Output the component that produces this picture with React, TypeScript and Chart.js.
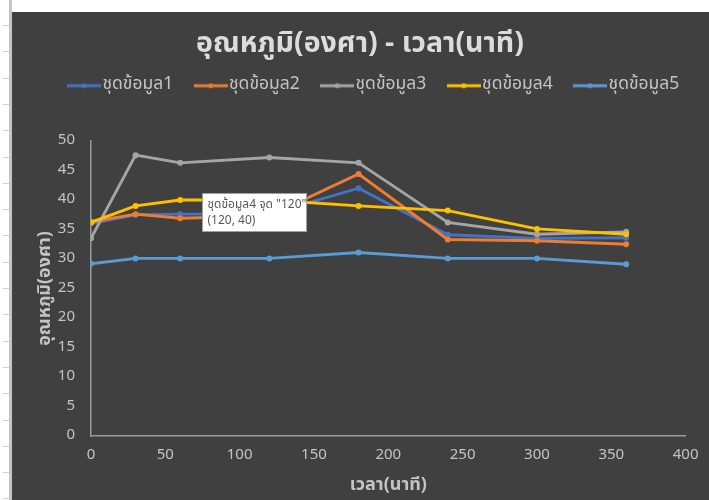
import React, { useEffect, useRef } from "react";
import { Chart, registerables } from "chart.js";

Chart.register(...registerables);

// Elapsed time (minutes) at each reading
const times = [0, 30, 60, 120, 180, 240, 300, 360];

// Temperature readings (degrees) for each data set
const series1 = [36.0, 37.5, 37.6, 37.6, 42.0, 34.1, 33.5, 33.6];
const series2 = [36.3, 37.6, 36.9, 37.3, 44.4, 33.3, 33.1, 32.5];
const series3 = [33.5, 47.6, 46.3, 47.2, 46.3, 36.2, 34.2, 34.6];
const series4 = [36.2, 39.0, 40.0, 40.0, 39.0, 38.2, 35.1, 34.2];
const series5 = [29.2, 30.1, 30.1, 30.1, 31.1, 30.1, 30.1, 29.1];

const seriesNames = ["ชุดข้อมูล1", "ชุดข้อมูล2", "ชุดข้อมูล3", "ชุดข้อมูล4", "ชุดข้อมูล5"];
const seriesColors = ["#4472C4", "#ED7D31", "#A5A5A5", "#FFC000", "#5B9BD5"];

const titleText = "อุณหภูมิ(องศา) - เวลา(นาที)";
const xTitle = "เวลา(นาที)";
const yTitle = "อุณหภูมิ(องศา)";

// Point described in the hover box
const hoverSeries = 3;
const hoverIndex = 3;

const FONT = "'Leelawadee UI', Tahoma, 'Noto Sans Thai', 'Noto Sans', sans-serif";
const BG = "#404040";
const TEXT = "#c4c4c4";
const AXIS = "#9a9a9a";

// Legend key: a short line with a dot marker in the middle
function legendSwatch(color: string): HTMLCanvasElement {
  const c = document.createElement("canvas");
  c.width = 34;
  c.height = 8;
  const g = c.getContext("2d")!;
  g.strokeStyle = color;
  g.lineWidth = 3;
  g.beginPath();
  g.moveTo(0, 4);
  g.lineTo(34, 4);
  g.stroke();
  g.fillStyle = color;
  g.beginPath();
  g.arc(17, 4, 2.5, 0, Math.PI * 2);
  g.fill();
  return c;
}

// Leaves extra room under the legend and nudges the title and legend rows
const headerLayout = {
  id: "headerLayout",
  beforeInit(chart: any) {
    const legend = chart.legend;
    if (!legend) return;
    const fit = legend.fit;
    legend.fit = function () {
      fit.call(this);
      this.height = 92;
    };
  },
  afterLayout(chart: any) {
    const legend = chart.legend;
    if (legend) {
      legend.left += 21.5;
      legend.right += 21.5;
    }
    const title = chart.titleBlock;
    if (title) {
      title.left += 4.5;
      title.right += 4.5;
    }
  },
};

// Hover box describing one data point
const hoverBox = {
  id: "hoverBox",
  afterDraw(chart: any) {
    const xs = chart.scales.x;
    const ys = chart.scales.y;
    const all = [series1, series2, series3, series4, series5];
    const xv = times[hoverIndex];
    const yv = all[hoverSeries][hoverIndex];
    const px = xs.getPixelForValue(xv);
    const py = ys.getPixelForValue(yv);
    const ctx = chart.ctx;
    const left = Math.round(px - 67) + 0.5;
    const top = Math.round(py - 7) + 0.5;
    ctx.save();
    ctx.fillStyle = "#ffffff";
    ctx.strokeStyle = "#a0a0a0";
    ctx.lineWidth = 1;
    ctx.fillRect(left, top, 104, 38);
    ctx.strokeRect(left, top, 104, 38);
    ctx.fillStyle = "#575757";
    ctx.font = `12px ${FONT}`;
    ctx.textBaseline = "middle";
    ctx.textAlign = "left";
    ctx.fillText(`${seriesNames[hoverSeries]} จุด "${xv}"`, left + 5, top + 12);
    ctx.fillText(`(${xv}, ${yv})`, left + 5, top + 28);
    ctx.restore();
  },
};

export default function App() {
  const ref = useRef<HTMLCanvasElement | null>(null);

  useEffect(() => {
    if (!ref.current) return;
    const all = [series1, series2, series3, series4, series5];
    const chart = new Chart(ref.current, {
      type: "scatter",
      data: {
        datasets: all.map((vals, i) => ({
          label: seriesNames[i],
          data: times.map((t, j) => ({ x: t, y: vals[j] })),
          showLine: true,
          borderColor: seriesColors[i],
          backgroundColor: seriesColors[i],
          borderWidth: 2.9,
          pointRadius: 3,
          pointBorderWidth: 0,
          order: 4 - i,
        })) as any,
      },
      options: {
        responsive: false,
        animation: false,
        events: [],
        layout: { padding: { left: 0, right: 10, top: 4, bottom: 0 } },
        plugins: {
          title: {
            display: true,
            text: titleText,
            color: "#dcdcdc",
            font: { family: FONT, size: 28.5, weight: "bold" },
            padding: { top: 12.9, bottom: -14.1 },
          },
          legend: {
            display: true,
            position: "top",
            labels: {
              color: TEXT,
              font: { family: FONT, size: 17.5 },
              usePointStyle: true,
              pointStyleWidth: 19,
              padding: 28,
              generateLabels: (ch: any) =>
                ch.data.datasets.map((ds: any, i: number) => ({
                  text: ds.label,
                  fontColor: TEXT,
                  pointStyle: legendSwatch(seriesColors[i]),
                  datasetIndex: i,
                  hidden: false,
                  lineWidth: 0,
                  strokeStyle: "transparent",
                  fillStyle: seriesColors[i],
                })),
            },
          },
          tooltip: { enabled: false },
        },
        scales: {
          x: {
            type: "linear",
            min: 0,
            max: 400,
            afterFit: (s: any) => {
              s.height = 64;
            },
            ticks: { stepSize: 50, color: TEXT, font: { family: FONT, size: 15 }, padding: 10.5 },
            grid: { display: false, drawTicks: false },
            border: { display: true, color: AXIS, width: 1.5 },
            title: {
              display: true,
              text: xTitle,
              color: TEXT,
              font: { family: FONT, size: 18, weight: "bold" },
              padding: { top: 0, bottom: 3 },
            },
          },
          y: {
            type: "linear",
            min: 0,
            max: 50,
            afterFit: (s: any) => {
              s.width = 79;
            },
            ticks: { stepSize: 5, color: TEXT, font: { family: FONT, size: 15 }, padding: 16 },
            grid: { display: false, drawTicks: false },
            border: { display: true, color: AXIS, width: 1.5 },
            title: {
              display: true,
              text: yTitle,
              color: TEXT,
              font: { family: FONT, size: 18, weight: "bold" },
              padding: { top: 24, bottom: 0 },
            },
          },
        },
      },
      plugins: [headerLayout, hoverBox],
    });
    return () => chart.destroy();
  }, []);

  const rowMarks = [];
  for (let k = 0; k < 19; k++) {
    rowMarks.push(
      <div
        key={k}
        style={{ position: "absolute", left: 3, top: Math.round(25 + k * 26.3), width: 6, height: 1, background: "#d0d0d0" }}
      />
    );
  }

  return (
    <div style={{ position: "fixed", left: 0, top: 0, width: 709, height: 500, background: "#ffffff", overflow: "hidden" }}>
      {rowMarks}
      <div style={{ position: "absolute", left: 9, top: 0, width: 3, height: 500, background: "#c4c4c4" }} />
      <div style={{ position: "absolute", left: 12, top: 12, width: 697, height: 488, background: BG }}>
        <canvas ref={ref} width={697} height={488} style={{ display: "block" }} />
      </div>
    </div>
  );
}
